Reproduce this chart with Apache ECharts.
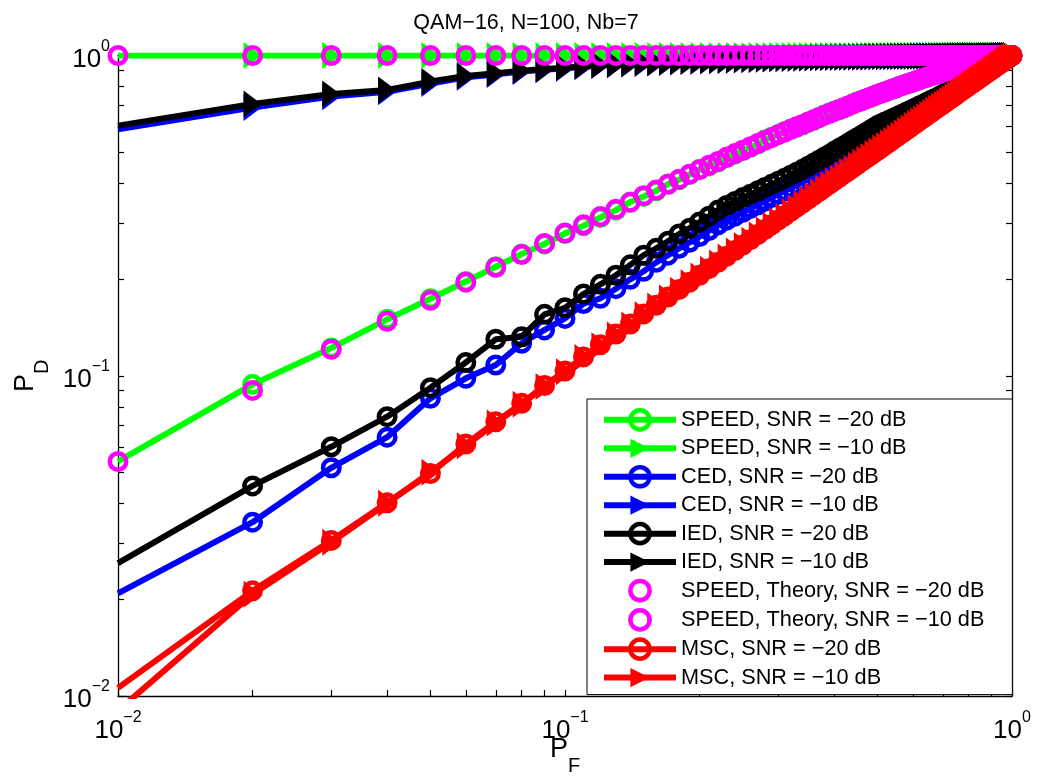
<!DOCTYPE html>
<html>
<head>
<meta charset="utf-8">
<title>QAM-16 ROC</title>
<script src="https://cdn.jsdelivr.net/npm/echarts@6/dist/echarts.min.js"></script>
<style>
  html, body { margin: 0; padding: 0; background: #ffffff; }
  #chart { width: 1038px; height: 780px; }
</style>
</head>
<body>
<div id="chart"></div>
<script>
// False-alarm probabilities shared by every curve
const pf = [
  0.01, 0.02, 0.03, 0.04, 0.05, 0.06, 0.07, 0.08, 0.09, 0.10,
  0.11, 0.12, 0.13, 0.14, 0.15, 0.16, 0.17, 0.18, 0.19, 0.20,
  0.21, 0.22, 0.23, 0.24, 0.25, 0.26, 0.27, 0.28, 0.29, 0.30,
  0.31, 0.32, 0.33, 0.34, 0.35, 0.36, 0.37, 0.38, 0.39, 0.40,
  0.41, 0.42, 0.43, 0.44, 0.45, 0.46, 0.47, 0.48, 0.49, 0.50,
  0.51, 0.52, 0.53, 0.54, 0.55, 0.56, 0.57, 0.58, 0.59, 0.60,
  0.61, 0.62, 0.63, 0.64, 0.65, 0.66, 0.67, 0.68, 0.69, 0.70,
  0.71, 0.72, 0.73, 0.74, 0.75, 0.76, 0.77, 0.78, 0.79, 0.80,
  0.81, 0.82, 0.83, 0.84, 0.85, 0.86, 0.87, 0.88, 0.89, 0.90,
  0.91, 0.92, 0.93, 0.94, 0.95, 0.96, 0.97, 0.98, 0.99, 1.00
];

// SPEED, simulated
const speedM20 = [
  0.054, 0.094, 0.122, 0.150, 0.174, 0.197, 0.219, 0.240, 0.258, 0.278,
  0.294, 0.312, 0.329, 0.349, 0.363, 0.378, 0.397, 0.409, 0.425, 0.441,
  0.452, 0.465, 0.480, 0.492, 0.505, 0.517, 0.529, 0.545, 0.556, 0.567,
  0.579, 0.590, 0.598, 0.607, 0.618, 0.628, 0.639, 0.652, 0.661, 0.670,
  0.676, 0.685, 0.695, 0.706, 0.716, 0.724, 0.730, 0.738, 0.748, 0.757,
  0.764, 0.771, 0.777, 0.784, 0.792, 0.801, 0.808, 0.815, 0.820, 0.826,
  0.833, 0.841, 0.848, 0.852, 0.858, 0.864, 0.872, 0.878, 0.883, 0.887,
  0.892, 0.898, 0.905, 0.910, 0.915, 0.918, 0.923, 0.929, 0.934, 0.938,
  0.941, 0.945, 0.951, 0.955, 0.957, 0.961, 0.966, 0.970, 0.973, 0.975,
  0.978, 0.982, 0.986, 0.988, 0.991, 0.993, 0.995, 0.997, 0.999, 1.000
];
const speedM10 = [
  1, 1, 1, 1, 1, 1, 1, 1, 1, 1,
  1, 1, 1, 1, 1, 1, 1, 1, 1, 1,
  1, 1, 1, 1, 1, 1, 1, 1, 1, 1,
  1, 1, 1, 1, 1, 1, 1, 1, 1, 1,
  1, 1, 1, 1, 1, 1, 1, 1, 1, 1,
  1, 1, 1, 1, 1, 1, 1, 1, 1, 1,
  1, 1, 1, 1, 1, 1, 1, 1, 1, 1,
  1, 1, 1, 1, 1, 1, 1, 1, 1, 1,
  1, 1, 1, 1, 1, 1, 1, 1, 1, 1,
  1, 1, 1, 1, 1, 1, 1, 1, 1, 1
];

// CED
const cedM20 = [
  0.0209, 0.0349, 0.0516, 0.0643, 0.0850, 0.0982, 0.108, 0.1263, 0.139, 0.151,
  0.168, 0.1745, 0.187, 0.200, 0.212, 0.226, 0.238, 0.250, 0.261, 0.272,
  0.284, 0.296, 0.306, 0.315, 0.324, 0.333, 0.342, 0.351, 0.360, 0.369,
  0.378, 0.387, 0.396, 0.405, 0.414, 0.423, 0.432, 0.441, 0.450, 0.459,
  0.468, 0.477, 0.486, 0.495, 0.504, 0.513, 0.522, 0.531, 0.540, 0.549,
  0.558, 0.567, 0.576, 0.585, 0.594, 0.603, 0.612, 0.621, 0.630, 0.639,
  0.648, 0.657, 0.666, 0.675, 0.684, 0.693, 0.702, 0.711, 0.720, 0.729,
  0.738, 0.747, 0.756, 0.765, 0.774, 0.783, 0.792, 0.801, 0.810, 0.819,
  0.828, 0.837, 0.846, 0.855, 0.864, 0.873, 0.882, 0.891, 0.900, 0.909,
  0.918, 0.927, 0.936, 0.945, 0.954, 0.963, 0.972, 0.981, 0.990, 1.000
];
const cedM10 = [
  0.588, 0.688, 0.744, 0.770, 0.818, 0.855, 0.873, 0.891, 0.903, 0.912,
  0.923, 0.930, 0.935, 0.940, 0.944, 0.948, 0.951, 0.954, 0.957, 0.959,
  0.961, 0.963, 0.965, 0.967, 0.969, 0.971, 0.972, 0.974, 0.975, 0.977,
  0.978, 0.979, 0.980, 0.981, 0.982, 0.983, 0.984, 0.985, 0.985, 0.986,
  0.987, 0.987, 0.988, 0.988, 0.989, 0.989, 0.990, 0.990, 0.991, 0.991,
  0.992, 0.992, 0.992, 0.993, 0.993, 0.993, 0.994, 0.994, 0.994, 0.995,
  0.995, 0.995, 0.995, 0.996, 0.996, 0.996, 0.996, 0.996, 0.997, 0.997,
  0.997, 0.997, 0.997, 0.997, 0.998, 0.998, 0.998, 0.998, 0.998, 0.998,
  0.998, 0.998, 0.999, 0.999, 0.999, 0.999, 0.999, 0.999, 0.999, 0.999,
  0.999, 0.999, 0.999, 0.999, 1.000, 1.000, 1.000, 1.000, 1.000, 1.000
];

// IED
const iedM20 = [
  0.0260, 0.0453, 0.0600, 0.0745, 0.0918, 0.110, 0.130, 0.1324, 0.1555, 0.163,
  0.180, 0.193, 0.206, 0.222, 0.238, 0.250, 0.263, 0.277, 0.289, 0.302,
  0.315, 0.329, 0.340, 0.350, 0.360, 0.369, 0.378, 0.387, 0.396, 0.405,
  0.414, 0.423, 0.432, 0.441, 0.451, 0.461, 0.471, 0.481, 0.491, 0.502,
  0.512, 0.522, 0.532, 0.543, 0.553, 0.563, 0.573, 0.583, 0.594, 0.604,
  0.612, 0.620, 0.627, 0.635, 0.642, 0.650, 0.657, 0.665, 0.672, 0.680,
  0.687, 0.695, 0.702, 0.710, 0.717, 0.725, 0.732, 0.740, 0.747, 0.755,
  0.763, 0.771, 0.779, 0.787, 0.795, 0.803, 0.811, 0.819, 0.827, 0.835,
  0.843, 0.851, 0.859, 0.867, 0.875, 0.883, 0.891, 0.899, 0.907, 0.915,
  0.923, 0.931, 0.939, 0.947, 0.955, 0.964, 0.973, 0.982, 0.991, 1.000
];
const iedM10 = [
  0.604, 0.706, 0.758, 0.780, 0.829, 0.863, 0.880, 0.897, 0.908, 0.916,
  0.927, 0.934, 0.938, 0.943, 0.947, 0.950, 0.953, 0.956, 0.959, 0.961,
  0.963, 0.965, 0.967, 0.969, 0.971, 0.972, 0.974, 0.975, 0.977, 0.978,
  0.979, 0.980, 0.981, 0.982, 0.983, 0.984, 0.985, 0.986, 0.986, 0.987,
  0.988, 0.988, 0.989, 0.989, 0.990, 0.990, 0.991, 0.991, 0.992, 0.992,
  0.992, 0.993, 0.993, 0.993, 0.994, 0.994, 0.994, 0.995, 0.995, 0.995,
  0.995, 0.996, 0.996, 0.996, 0.996, 0.996, 0.997, 0.997, 0.997, 0.997,
  0.997, 0.997, 0.998, 0.998, 0.998, 0.998, 0.998, 0.998, 0.998, 0.998,
  0.999, 0.999, 0.999, 0.999, 0.999, 0.999, 0.999, 0.999, 0.999, 0.999,
  0.999, 0.999, 0.999, 1.000, 1.000, 1.000, 1.000, 1.000, 1.000, 1.000
];

// SPEED, theoretical
const theoryM20 = [
  0.054, 0.090, 0.121, 0.148, 0.172, 0.196, 0.218, 0.239, 0.259, 0.279,
  0.296, 0.314, 0.331, 0.348, 0.365, 0.380, 0.396, 0.411, 0.426, 0.440,
  0.454, 0.467, 0.481, 0.494, 0.506, 0.519, 0.531, 0.543, 0.554, 0.566,
  0.577, 0.588, 0.599, 0.609, 0.620, 0.630, 0.640, 0.650, 0.659, 0.669,
  0.678, 0.687, 0.696, 0.705, 0.714, 0.722, 0.731, 0.739, 0.747, 0.755,
  0.763, 0.770, 0.778, 0.786, 0.793, 0.800, 0.807, 0.814, 0.821, 0.827,
  0.834, 0.840, 0.847, 0.853, 0.859, 0.865, 0.871, 0.877, 0.882, 0.888,
  0.893, 0.899, 0.904, 0.909, 0.914, 0.919, 0.924, 0.928, 0.933, 0.937,
  0.942, 0.946, 0.950, 0.954, 0.958, 0.962, 0.965, 0.969, 0.972, 0.976,
  0.979, 0.982, 0.985, 0.988, 0.990, 0.993, 0.995, 0.997, 0.999, 1.000
];
const theoryM10 = [
  1, 1, 1, 1, 1, 1, 1, 1, 1, 1,
  1, 1, 1, 1, 1, 1, 1, 1, 1, 1,
  1, 1, 1, 1, 1, 1, 1, 1, 1, 1,
  1, 1, 1, 1, 1, 1, 1, 1, 1, 1,
  1, 1, 1, 1, 1, 1, 1, 1, 1, 1,
  1, 1, 1, 1, 1, 1, 1, 1, 1, 1,
  1, 1, 1, 1, 1, 1, 1, 1, 1, 1,
  1, 1, 1, 1, 1, 1, 1, 1, 1, 1,
  1, 1, 1, 1, 1, 1, 1, 1, 1, 1,
  1, 1, 1, 1, 1, 1, 1, 1, 1, 1
];

// MSC
const mscM20 = [
  0.0106, 0.0213, 0.0306, 0.0401, 0.0495, 0.0612, 0.0718, 0.0820, 0.0932, 0.1035,
  0.1145, 0.1250, 0.135, 0.145, 0.156, 0.166, 0.176, 0.186, 0.196, 0.206,
  0.216, 0.226, 0.236, 0.246, 0.256, 0.266, 0.276, 0.286, 0.296, 0.306,
  0.316, 0.326, 0.336, 0.346, 0.356, 0.366, 0.376, 0.386, 0.396, 0.406,
  0.416, 0.426, 0.436, 0.446, 0.456, 0.466, 0.476, 0.485, 0.495, 0.505,
  0.515, 0.525, 0.535, 0.545, 0.555, 0.565, 0.575, 0.585, 0.595, 0.605,
  0.615, 0.625, 0.635, 0.645, 0.655, 0.665, 0.675, 0.685, 0.695, 0.704,
  0.714, 0.724, 0.734, 0.744, 0.754, 0.764, 0.774, 0.784, 0.794, 0.804,
  0.814, 0.823, 0.833, 0.843, 0.853, 0.863, 0.873, 0.883, 0.892, 0.902,
  0.912, 0.922, 0.932, 0.942, 0.952, 0.961, 0.971, 0.981, 0.991, 1.000
];
const mscM10 = [
  0.0090, 0.0208, 0.0302, 0.0400, 0.0500, 0.0605, 0.0712, 0.0815, 0.0925, 0.1030,
  0.1140, 0.1240, 0.134, 0.144, 0.155, 0.165, 0.175, 0.185, 0.195, 0.205,
  0.215, 0.225, 0.235, 0.245, 0.255, 0.265, 0.275, 0.285, 0.295, 0.305,
  0.315, 0.325, 0.335, 0.345, 0.355, 0.365, 0.375, 0.385, 0.395, 0.405,
  0.414, 0.424, 0.434, 0.444, 0.454, 0.464, 0.474, 0.484, 0.494, 0.504,
  0.514, 0.524, 0.534, 0.544, 0.554, 0.564, 0.574, 0.584, 0.594, 0.604,
  0.614, 0.624, 0.634, 0.644, 0.654, 0.664, 0.674, 0.684, 0.694, 0.703,
  0.713, 0.723, 0.733, 0.743, 0.753, 0.763, 0.773, 0.783, 0.793, 0.803,
  0.813, 0.823, 0.833, 0.842, 0.852, 0.862, 0.872, 0.882, 0.892, 0.902,
  0.912, 0.921, 0.931, 0.941, 0.951, 0.961, 0.971, 0.981, 0.990, 1.000
];

// Axis ticks (decades carry labels, every tick mark is drawn)
const labelTicks = [0.01, 0.1, 1];
const tickMarks = [
  0.01, 0.02, 0.03, 0.04, 0.05, 0.06, 0.07, 0.08, 0.09,
  0.1, 0.2, 0.3, 0.4, 0.5, 0.6, 0.7, 0.8, 0.9, 1
];

const FONT = '"Liberation Sans", Arial, Helvetica, sans-serif';
const GREEN = '#00ff00', BLUE = '#0000ff', BLACK = '#000000', MAGENTA = '#ff00ff', RED = '#ff0000';
const TRIANGLE = 'path://M0,0L16,13L0,26Z';

const curves = [
  { name: 'SPEED, SNR = \u221220 dB', y: speedM20, color: GREEN, mark: 'o', sim: true },
  { name: 'SPEED, SNR = \u221210 dB', y: speedM10, color: GREEN, mark: '>', sim: true },
  { name: 'CED, SNR = \u221220 dB', y: cedM20, color: BLUE, mark: 'o', sim: true },
  { name: 'CED, SNR = \u221210 dB', y: cedM10, color: BLUE, mark: '>', sim: true },
  { name: 'IED, SNR = \u221220 dB', y: iedM20, color: BLACK, mark: 'o', sim: true },
  { name: 'IED, SNR = \u221210 dB', y: iedM10, color: BLACK, mark: '>', sim: true },
  { name: 'SPEED, Theory, SNR = \u221220 dB', y: theoryM20, color: MAGENTA, mark: 'o', sim: false, noLine: true },
  { name: 'SPEED, Theory, SNR = \u221210 dB', y: theoryM10, color: MAGENTA, mark: 'o', sim: false, noLine: true },
  { name: 'MSC, SNR = \u221220 dB', y: mscM20, color: RED, mark: 'o', sim: true },
  { name: 'MSC, SNR = \u221210 dB', y: mscM10, color: RED, mark: '>', sim: true }
];

function powerLabel(v) {
  const e = Math.round(Math.log10(v));
  return '{b|10}{s|' + (e < 0 ? '\u2212' + (-e) : String(e)) + '}';
}

const tickRich = {
  b: { fontFamily: FONT, fontSize: 26, lineHeight: 34, verticalAlign: 'bottom', color: '#000' },
  s: { fontFamily: FONT, fontSize: 16, lineHeight: 10, verticalAlign: 'top', color: '#000' }
};
const nameRich = {
  p: { fontFamily: FONT, fontSize: 27, lineHeight: 30, verticalAlign: 'top', color: '#000' },
  s: { fontFamily: FONT, fontSize: 20, lineHeight: 20, verticalAlign: 'top', padding: [20, 0, 0, 0], color: '#000' }
};

function logAxis(position, labelMargin, extra) {
  return Object.assign({
    type: 'log',
    logBase: 10,
    min: 0.01,
    max: 1,
    position: position,
    nameMoveOverlap: false,
    axisLine: { show: true, onZero: false, lineStyle: { color: '#000', width: 1.3 } },
    axisTick: { show: true, inside: true, length: 6, customValues: tickMarks, lineStyle: { color: '#000', width: 1.2 } },
    minorTick: { show: false },
    splitLine: { show: false },
    minorSplitLine: { show: false },
    axisLabel: labelMargin != null
      ? { show: true, margin: labelMargin, customValues: labelTicks, formatter: powerLabel, rich: tickRich, color: '#000' }
      : { show: false }
  }, extra || {});
}

const chart = echarts.init(document.getElementById('chart'), null, { renderer: 'canvas' });

chart.setOption({
  animation: false,
  backgroundColor: '#ffffff',
  title: {
    text: 'QAM\u221216, N=100, Nb=7',
    left: 521,
    textAlign: 'center',
    top: 7,
    textStyle: { fontFamily: FONT, fontSize: 21.5, fontWeight: 'normal', color: '#000' }
  },
  grid: { left: 118, right: 26, top: 55.5, bottom: 84, containLabel: false, outerBoundsMode: 'none' },
  xAxis: [
    logAxis('bottom', 14, {
      name: '{p|P}{s|F}',
      nameLocation: 'middle',
      nameGap: 40,
      nameTextStyle: { rich: nameRich }
    }),
    logAxis('top', null)
  ],
  yAxis: [
    logAxis('left', 8, {
      name: '{p|P}{s|D}',
      nameLocation: 'middle',
      nameGap: 76,
      nameTextStyle: { rich: nameRich }
    }),
    logAxis('right', null)
  ],
  legend: {
    orient: 'vertical',
    left: 587,
    top: 399,
    itemWidth: 72,
    itemHeight: 24,
    itemGap: 5.6,
    padding: [9, 28, 6, 14],
    backgroundColor: '#ffffff',
    borderColor: '#000',
    borderWidth: 1,
    selectedMode: false,
    z: 20,
    lineStyle: { width: 'inherit' },
    itemStyle: { borderWidth: 'inherit' },
    textStyle: { fontFamily: FONT, fontSize: 21.7, color: '#000' },
    data: curves.map(c => c.name)
  },
  series: curves.map((c, i) => ({
    type: 'line',
    name: c.name,
    xAxisIndex: 0,
    yAxisIndex: 0,
    z: 2 + i,
    clip: true,
    silent: true,
    symbol: c.mark === 'o' ? 'circle' : TRIANGLE,
    symbolSize: c.mark === 'o' ? 16.5 : [18, 27],
    lineStyle: c.noLine ? { width: 0, color: 'rgba(0,0,0,0)' } : { width: 6, color: c.color },
    itemStyle: c.mark === 'o'
      ? { color: 'rgba(0,0,0,0)', borderColor: c.color, borderWidth: 4.5 }
      : { color: c.color, borderColor: c.color, borderWidth: 0 },
    emphasis: { disabled: true },
    data: pf.map((x, k) => (c.sim && k === 0)
      ? { value: [x, c.y[k]], symbol: 'none' }
      : [x, c.y[k]])
  }))
});
</script>
</body>
</html>
